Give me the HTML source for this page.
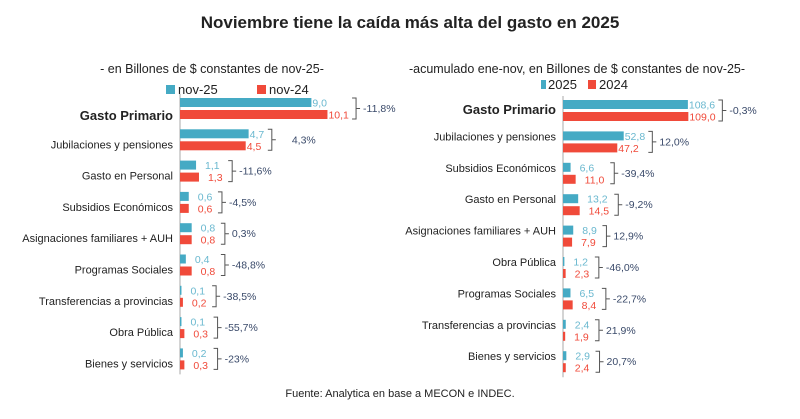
<!DOCTYPE html>
<html><head><meta charset="utf-8"><style>
body{margin:0;background:#fff;width:800px;height:414px;overflow:hidden;font-family:"Liberation Sans",sans-serif}
svg text{font-family:"Liberation Sans",sans-serif}
</style></head><body>
<svg id="c" width="800" height="414">
<text x="410" y="28" text-anchor="middle" font-size="17" font-weight="bold" fill="#222">Noviembre tiene la caída más alta del gasto en 2025</text>
<text x="212" y="73" text-anchor="middle" font-size="12.5" fill="#222">- en Billones de $ constantes de nov-25-</text>
<text x="577" y="73" text-anchor="middle" font-size="12.5" fill="#222">-acumulado ene-nov, en Billones de $ constantes de nov-25-</text>
<g>
<rect x="166" y="85" width="9" height="9" fill="#45aac4"/>
<text x="178" y="94" font-size="13" fill="#222">nov-25</text>
<rect x="257" y="85" width="9" height="9" fill="#f04a3a"/>
<text x="269" y="94" font-size="13" fill="#222">nov-24</text>
</g>
<g>
<rect x="541" y="80" width="5" height="9" fill="#45aac4"/>
<text x="548" y="89" font-size="13" fill="#222">2025</text>
<rect x="588" y="80" width="8" height="9" fill="#f04a3a"/>
<text x="599" y="89" font-size="13" fill="#222">2024</text>
</g>
<text x="400" y="397" text-anchor="middle" font-size="11" fill="#222">Fuente: Analytica en base a MECON e INDEC.</text>
</svg>
<script>
const leftCats=["Gasto Primario","Jubilaciones y pensiones","Gasto en Personal","Subsidios Económicos","Asignaciones familiares + AUH","Programas Sociales","Transferencias a provincias","Obra Pública","Bienes y servicios"];
const leftA=[9.0,4.7,1.1,0.6,0.8,0.4,0.1,0.1,0.2];
const leftB=[10.1,4.5,1.3,0.6,0.8,0.8,0.2,0.3,0.3];
const leftPct=["-11,8%","4,3%","-11,6%","-4,5%","0,3%","-48,8%","-38,5%","-55,7%","-23%"];
const rightCats=["Gasto Primario","Jubilaciones y pensiones","Subsidios Económicos","Gasto en Personal","Asignaciones familiares + AUH","Obra Pública","Programas Sociales","Transferencias a provincias","Bienes y servicios"];
const rightA=[108.6,52.8,6.6,13.2,8.9,1.2,6.5,2.4,2.9];
const rightB=[109.0,47.2,11.0,14.5,7.9,2.3,8.4,1.9,2.4];
const rightPct=["-0,3%","12,0%","-39,4%","-9,2%","12,9%","-46,0%","-22,7%","21,9%","20,7%"];
const NS="http://www.w3.org/2000/svg",svg=document.getElementById('c');
function el(t,a,txt){const e=document.createElementNS(NS,t);for(const k in a)e.setAttribute(k,a[k]);if(txt!=null)e.textContent=txt;svg.appendChild(e);return e;}
const fmt=v=>v.toFixed(1).replace('.',',');
function chart(p){
 const x=v=>p.x0+v*p.k, y=i=>p.y0+i*p.step;
 const ax=el('line',{x1:p.x0,x2:p.x0,y1:p.y0-4,y2:y(p.cats.length-1)+26,stroke:'#aaa','stroke-width':1});
 
 p.cats.forEach((c,i)=>{
  const yy=y(i),a=p.A[i],b=p.B[i];
  const lb=el('text',{x:p.x0-7,y:(i==0?yy+p.ly0:yy+p.ly),'text-anchor':'end','font-size':i==0?13:11,'font-weight':i==0?'bold':'normal',fill:'#222'},c);
  
  const r1=el('rect',{x:p.x0,y:yy,width:Math.max(x(a)-p.x0,1),height:9,fill:'#45aac4'});
  
  const r2=el('rect',{x:p.x0,y:yy+12,width:Math.max(x(b)-p.x0,1),height:9,fill:'#f04a3a'});
  
  const small=Math.max(a,b)*p.k<25;
  const off=small?9:1;
  const w=s=>s.length*5.4;
  const t1=fmt(a),t2=fmt(b);
  const v1=el('text',{x:x(a)+off,y:yy+8.5,'font-size':10.5,fill:'#6ab8cf'},t1);
  
  const v2=el('text',{x:x(b)+off,y:yy+20.5,'font-size':10.5,fill:'#f04a3a'},t2);
  
  const bx=Math.max(x(a)+w(t1),x(b)+w(t2))+off+(small?8:6);
  const br=el('path',{d:`M${bx-4},${yy} H${bx} V${yy+21} H${bx-4} M${bx},${yy+10.5} H${bx+4}`,stroke:'#555',fill:'none','stroke-width':1});
  
  const pt=el('text',{x:bx+(i==1&&p.id=='left'?20:7),y:yy+14,'font-size':10.5,fill:'#3a4a6a'},p.P[i]);
  
 });
}
chart({id:'left',cats:leftCats,A:leftA,B:leftB,P:leftPct,x0:180,k:14.6,y0:98,step:31.3,ly0:22,ly:19});
chart({id:'right',cats:rightCats,A:rightA,B:rightB,P:rightPct,x0:563,k:1.15,y0:100,step:31.4,ly0:14,ly:9});
</script>
</body></html>
